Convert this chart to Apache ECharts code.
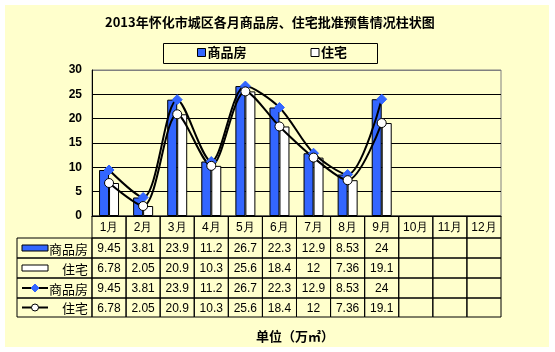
<!DOCTYPE html>
<html>
<head>
<meta charset="utf-8">
<script src="https://cdn.jsdelivr.net/npm/echarts@6/dist/echarts.min.js"></script>
<style>
  html, body { margin: 0; padding: 0; background: #fff; }
  #main { width: 555px; height: 352px; }
</style>
</head>
<body>
<div id="main"></div>
<script>
// values (万㎡)
var months = ['1月', '2月', '3月', '4月', '5月', '6月', '7月', '8月', '9月', '10月', '11月', '12月'];
var shangpinfang = [9.45, 3.81, 23.9, 11.2, 26.7, 22.3, 12.9, 8.53, 24, null, null, null];
var zhuzhai = [6.78, 2.05, 20.9, 10.3, 25.6, 18.4, 12, 7.36, 19.1, null, null, null];
var yTicks = [0, 5, 10, 15, 20, 25, 30];

var BLUE = '#3366FF';
var CN = '"Noto Sans CJK SC", sans-serif';
var LATIN = '"Liberation Sans", Arial, sans-serif';

// table rows: [label, icon kind, values]
var tableRows = [
  ['商品房', 'bar1', shangpinfang],
  ['住宅', 'bar2', zhuzhai],
  ['商品房', 'line1', shangpinfang],
  ['住宅', 'line2', zhuzhai]
];

var cells = [];
var cellText = [];
var cellIcon = [];
months.forEach(function (m, c) {
  cells.push([c, 0]); cellText.push(m); cellIcon.push(null);
});
tableRows.forEach(function (row, i) {
  cells.push([-1, i + 1]); cellText.push(row[0]); cellIcon.push(row[1]);
  row[2].forEach(function (v, c) {
    cells.push([c, i + 1]); cellText.push(v == null ? '' : String(v)); cellIcon.push(null);
  });
});

var LEG_W = 2.2;                        // legend column width, in month columns
var ROW_EDGES = [0, 22, 42, 62, 82, 101]; // header row a bit taller

function renderCell(params, api) {
  var col = api.value(0), row = api.value(1);
  var x0 = col < 0 ? -LEG_W : col;
  var x1 = col < 0 ? 0 : col + 1;
  var p0 = api.coord([x0, ROW_EDGES[row]]);
  var p1 = api.coord([x1, ROW_EDGES[row + 1]]);
  var x = p0[0], y = p0[1], w = p1[0] - p0[0], h = p1[1] - p0[1];
  var midY = y + h / 2;
  var kids = [{
    type: 'rect',
    shape: { x: x, y: y, width: w, height: h },
    style: { fill: 'none', stroke: '#000', lineWidth: 1 }
  }];
  var icon = cellIcon[params.dataIndex];
  if (icon) {
    kids.push({
      type: 'text',
      style: { text: cellText[params.dataIndex], x: x + w - 4, y: midY + 1, align: 'right', verticalAlign: 'middle',
        font: '13px ' + CN, fill: '#000' }
    });
    var ix = x + 5, iw = 26;
    if (icon === 'bar1' || icon === 'bar2') {
      kids.push({
        type: 'rect',
        shape: { x: ix, y: midY - 3, width: iw, height: 6 },
        style: { fill: icon === 'bar1' ? BLUE : '#fff', stroke: '#000', lineWidth: 1 }
      });
    } else {
      kids.push({
        type: 'line',
        shape: { x1: ix, y1: midY, x2: ix + iw, y2: midY },
        style: { stroke: '#000', lineWidth: 2 }
      });
      var cx = ix + iw / 2;
      if (icon === 'line1') {
        kids.push({
          type: 'polygon',
          shape: { points: [[cx, midY - 4], [cx + 4, midY], [cx, midY + 4], [cx - 4, midY]] },
          style: { fill: BLUE, stroke: BLUE }
        });
      } else {
        kids.push({
          type: 'circle',
          shape: { cx: cx, cy: midY, r: 3.5 },
          style: { fill: '#fff', stroke: '#000', lineWidth: 1 }
        });
      }
    }
  } else {
    kids.push({
      type: 'text',
      style: { text: cellText[params.dataIndex], x: x + w / 2, y: midY + 1, align: 'center', verticalAlign: 'middle',
        font: '12px ' + LATIN, fill: '#000' }
    });
  }
  return { type: 'group', children: kids };
}

var chart = echarts.init(document.getElementById('main'));
chart.setOption({
  animation: false,
  backgroundColor: 'transparent',
  graphic: [{
    type: 'rect', z: -100, silent: true,
    shape: { x: 5, y: 5, width: 544, height: 342 },
    style: { fill: '#FFFFCC' }
  }, {
    // legend frame
    type: 'rect', silent: true,
    shape: { x: 163.5, y: 43.5, width: 214, height: 20 },
    style: { fill: 'none', stroke: '#000', lineWidth: 1 }
  }],
  title: [{
    text: '2013年怀化市城区各月商品房、住宅批准预售情况柱状图',
    left: 105, top: 16, padding: 0,
    textStyle: { fontFamily: CN, fontSize: 13, fontWeight: 'bold', color: '#000' }
  }, {
    text: '单位（万㎡）',
    left: 256, top: 330, padding: 0,
    textStyle: { fontFamily: CN, fontSize: 13, fontWeight: 'bold', color: '#000' }
  }],
  legend: {
    data: [
      { name: '商品房', icon: 'rect', itemStyle: { color: BLUE, borderColor: '#000', borderWidth: 1 } },
      { name: '住宅', icon: 'rect', itemStyle: { color: '#fff', borderColor: '#000', borderWidth: 1 } }
    ],
    left: 197, top: 46,
    padding: 0,
    itemGap: 64,
    itemWidth: 8, itemHeight: 8,
    textStyle: { fontFamily: CN, fontSize: 13, fontWeight: 'bold', color: '#000', padding: [0, 0, 0, -3] }
  },
  grid: [{
    left: 92, right: 54, top: 70, bottom: 136,
    show: true, backgroundColor: '#FFFFCC', borderColor: '#808080', borderWidth: 1
  }, {
    left: 17, right: 54, top: 216, height: 101
  }],
  xAxis: [{
    type: 'category', gridIndex: 0, data: months,
    axisLine: { lineStyle: { color: '#000' } },
    axisTick: { show: false },
    axisLabel: { show: false }
  }, {
    type: 'value', gridIndex: 1, min: -LEG_W, max: 12, show: false
  }],
  yAxis: [{
    type: 'value', gridIndex: 0,
    min: yTicks[0], max: yTicks[yTicks.length - 1], interval: 5,
    axisLine: { show: true, lineStyle: { color: '#000' } },
    axisTick: { show: false },
    axisLabel: { color: '#000', fontFamily: LATIN, fontSize: 12, fontWeight: 'bold', margin: 10 },
    splitLine: { lineStyle: { color: ['#000', '#000', '#000', '#000', '#000', '#000', '#808080'] } }
  }, {
    type: 'value', gridIndex: 1, min: 0, max: ROW_EDGES[ROW_EDGES.length - 1], inverse: true, show: false
  }],
  series: [{
    name: '商品房', type: 'bar', data: shangpinfang,
    barWidth: 10, barGap: '0%',
    itemStyle: { color: BLUE, borderColor: '#000', borderWidth: 1 }
  }, {
    name: '住宅', type: 'bar', data: zhuzhai,
    barWidth: 10, barGap: '0%',
    itemStyle: { color: '#fff', borderColor: '#000', borderWidth: 1 }
  }, {
    name: '商品房线', type: 'line', data: shangpinfang, smooth: 0.3,
    symbol: 'diamond', symbolSize: 10,
    itemStyle: { color: BLUE, borderColor: BLUE },
    lineStyle: { color: '#000', width: 2 },
    z: 5
  }, {
    name: '住宅线', type: 'line', data: zhuzhai, smooth: 0.3,
    symbol: 'circle', symbolSize: 9,
    itemStyle: { color: '#fff', borderColor: '#000', borderWidth: 1 },
    lineStyle: { color: '#000', width: 2 },
    z: 5
  }, {
    type: 'custom', xAxisIndex: 1, yAxisIndex: 1,
    data: cells, renderItem: renderCell, clip: false, silent: true
  }]
});
</script>
</body>
</html>
